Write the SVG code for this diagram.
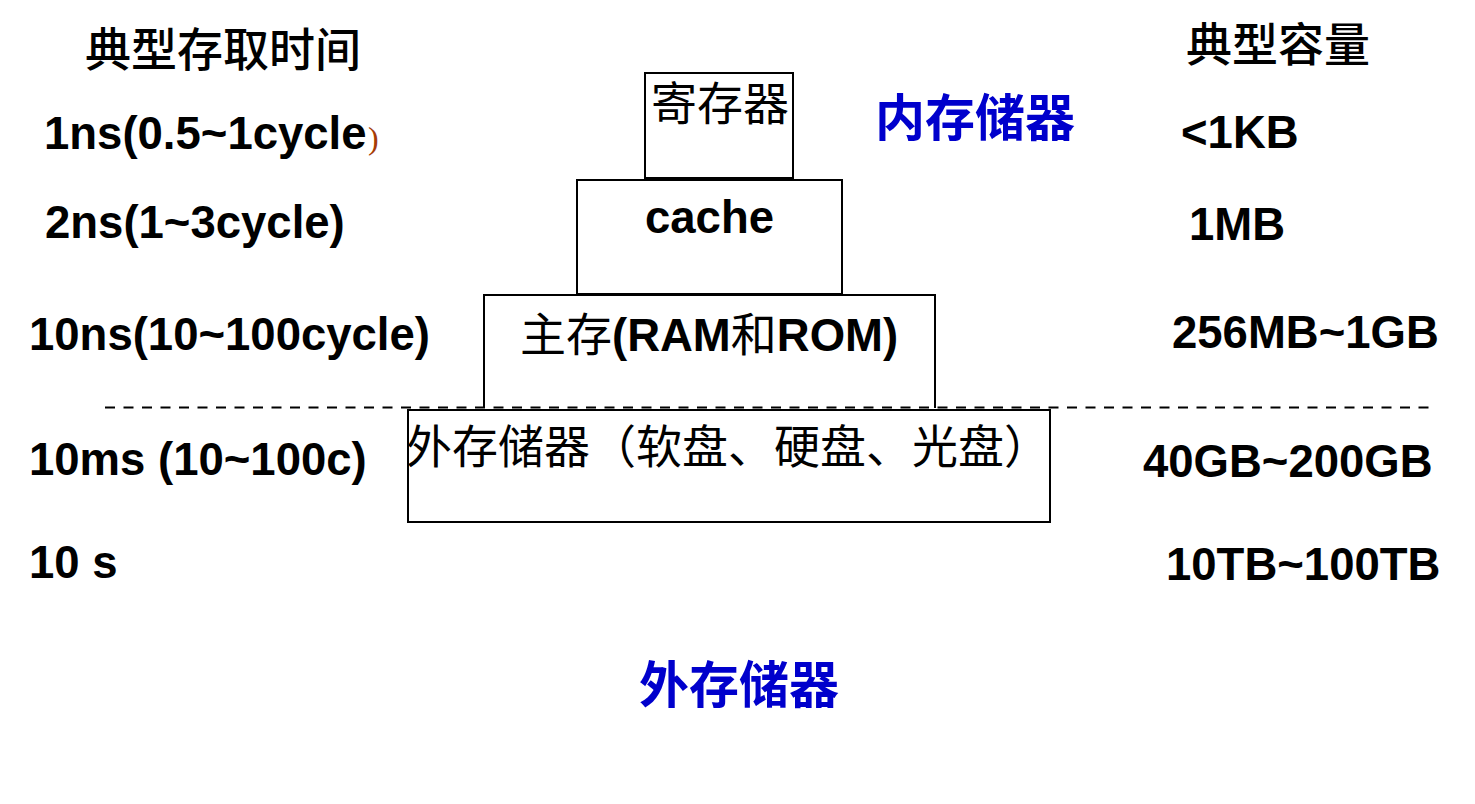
<svg xmlns="http://www.w3.org/2000/svg" width="1475" height="804" viewBox="0 0 1475 804">
<style>
.en{font-family:"Liberation Sans",Arial,sans-serif;font-weight:bold;font-size:45.5px;fill:#000}
.cj{font-family:"Noto Sans CJK SC","Liberation Sans",sans-serif;font-weight:normal;font-size:46px;fill:#000}
.ti{font-family:"Noto Sans CJK SC","Liberation Sans",sans-serif;font-weight:500;font-size:46px;fill:#000}
.bl{font-family:"Noto Sans CJK SC","Liberation Sans",sans-serif;font-weight:bold;font-size:50px;fill:#0000CC}
.box{fill:none;stroke:#000;stroke-width:2}
</style>
<rect width="1475" height="804" fill="#fff"/>
<g id="titles">
<text class="ti" x="85" y="66">典型存取时间</text>
<text class="ti" x="1186" y="61">典型容量</text>
</g>
<g id="time-labels">
<text class="en" x="44" y="149">1ns(0.5~1cycle</text>
<text x="368" y="149" style="font-family:'Liberation Serif','Times New Roman',serif;font-size:32px;fill:#A63C06">)</text>
<text class="en" x="45" y="238">2ns(1~3cycle)</text>
<text class="en" x="29" y="350">10ns(10~100cycle)</text>
<text class="en" x="29" y="475">10ms (10~100c)</text>
<text class="en" x="29" y="578">10 s</text>
</g>
<g id="capacity-labels">
<text class="en" x="1181" y="148">&lt;1KB</text>
<text class="en" x="1189" y="240">1MB</text>
<text class="en" x="1172" y="348">256MB~1GB</text>
<text class="en" x="1143" y="477">40GB~200GB</text>
<text class="en" x="1166" y="580">10TB~100TB</text>
</g>
<g id="connectors">
<line x1="105" y1="407.5" x2="1432" y2="407.5" stroke="#000" stroke-width="2.2" stroke-dasharray="10 8.5"/>
</g>
<g id="node-register">
<rect class="box" x="645" y="73" width="148" height="105"/>
<text class="cj" x="651" y="120">寄存器</text>
</g>
<g id="node-cache">
<rect class="box" x="577" y="180" width="265" height="114"/>
<text class="en" x="645" y="233">cache</text>
</g>
<g id="node-main">
<path class="box" d="M484,408 V295 H935 V408"/>
<text x="520" y="351"><tspan class="cj">主存</tspan><tspan class="en">(RAM</tspan><tspan class="cj">和</tspan><tspan class="en">ROM)</tspan></text>
</g>
<g id="node-external">
<rect class="box" x="408" y="410" width="642" height="112"/>
<text class="cj" x="406" y="463">外存储器（软盘、硬盘、光盘）</text>
</g>
<g id="labels-blue">
<text class="bl" x="875" y="136">内存储器</text>
<text class="bl" x="639" y="703">外存储器</text>
</g>
</svg>
